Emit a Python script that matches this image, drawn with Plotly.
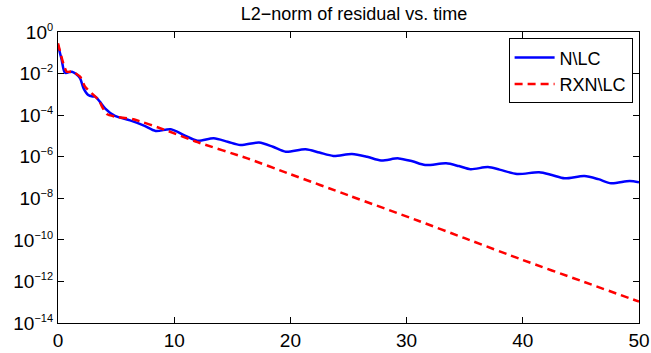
import plotly.graph_objects as go

# Data (log10 of residual norm)
n_lc_t = [0, 0.3, 0.6, 1.0, 1.2, 1.5, 1.9, 2.2, 2.6, 3.0, 3.2, 3.6, 4.05, 4.9, 6.2, 7.4,
          8.4, 9.7, 10.8, 12.0, 13.4, 14.6, 15.7, 17.3, 18.5, 19.6, 21.3, 22.5, 23.7,
          25.3, 26.6, 27.8, 29.3, 30.5, 31.6, 33.4, 34.5, 35.5, 37.0, 38.0, 39.5, 41.4,
          42.5, 43.6, 45.3, 46.5, 47.6, 49.2, 50]
n_lc_log10 = [-0.63, -1.3, -1.96, -1.93, -1.91, -2.0, -2.23, -2.71, -3.03, -3.1, -3.11,
              -3.35, -3.67, -4.04, -4.25, -4.5, -4.76, -4.68, -4.95, -5.23, -5.11, -5.28,
              -5.44, -5.32, -5.52, -5.76, -5.64, -5.8, -5.96, -5.87, -6.0, -6.18, -6.08,
              -6.22, -6.4, -6.32, -6.45, -6.6, -6.5, -6.62, -6.83, -6.75, -6.88, -7.04,
              -6.93, -7.08, -7.28, -7.17, -7.23]

rxn_lc_t = [0, 0.45, 0.75, 1.2, 1.9, 2.33, 3.0, 3.5, 3.8, 4.2, 4.9, 6.5, 9.4, 12, 16.3, 20,
            25, 31, 35, 40, 45, 50]
rxn_lc_log10 = [-0.54, -1.5, -1.91, -1.9, -2.15, -2.63, -3.0, -3.27, -3.6, -3.95, -4.07,
                -4.2, -4.75, -5.3, -6.08, -6.84, -7.86, -9.08, -9.92, -10.97, -11.97, -12.97]

x_ticks = [0, 10, 20, 30, 40, 50]
y_tick_exps = [0, -2, -4, -6, -8, -10, -12, -14]

n_lc = [10 ** v for v in n_lc_log10]
rxn_lc = [10 ** v for v in rxn_lc_log10]

font = "Liberation Sans, Arial, Helvetica, sans-serif"

fig = go.Figure()
fig.add_trace(go.Scatter(x=n_lc_t, y=n_lc, mode="lines", name="N\\LC",
                         line=dict(color="#0000ff", width=2.5, shape="spline", smoothing=0.8)))
fig.add_trace(go.Scatter(x=rxn_lc_t, y=rxn_lc, mode="lines", name="RXN\\LC",
                         line=dict(color="#ff0000", width=2.5, dash="8px,5px",
                                   shape="spline", smoothing=0.6)))

fig.update_layout(
    width=651, height=353,
    margin=dict(l=58, r=12, t=32, b=30, autoexpand=False),
    paper_bgcolor="white", plot_bgcolor="white",
    font=dict(family=font, size=19, color="black"),
    title=dict(text="L2\u2212norm of residual vs. time", x=354 / 651,
               xanchor="center", y=1 - 14 / 353, yanchor="middle",
               font=dict(size=18, family=font, color="black")),
    showlegend=True,
    legend=dict(x=0.989, y=0.978, xanchor="right", yanchor="top",
                bordercolor="black", borderwidth=1, bgcolor="white",
                itemwidth=40, font=dict(size=18, family=font)),
)
fig.update_xaxes(range=[0, 50], tickvals=x_ticks, ticktext=[str(v) for v in x_ticks],
                 ticks="inside", ticklen=6, tickcolor="black", showline=True,
                 linecolor="black", linewidth=1.2, mirror="ticks", showgrid=False,
                 zeroline=False, automargin=False, tickfont=dict(size=19))
fig.update_yaxes(type="log", range=[-14, 0], tickvals=[10 ** e for e in y_tick_exps],
                 ticktext=["10<sup><span style='font-size:11px'>%s</span></sup>"
                           % (str(e).replace("-", "\u2212")) for e in y_tick_exps],
                 ticks="inside", ticklen=6, tickcolor="black", showline=True,
                 linecolor="black", linewidth=1.2, mirror="ticks", showgrid=False,
                 zeroline=False, automargin=False, tickfont=dict(size=19))

fig.write_html("out.html")
